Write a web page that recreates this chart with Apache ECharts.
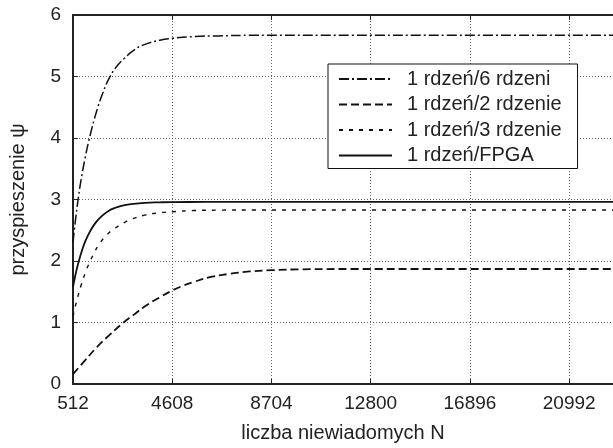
<!DOCTYPE html>
<html>
<head>
<meta charset="utf-8">
<script src="https://cdn.jsdelivr.net/npm/echarts@6/dist/echarts.min.js"></script>
<style>
html,body{margin:0;padding:0;background:#fff;}
#c{width:613px;height:448px;}
</style>
</head>
<body>
<div id="c"></div>
<script>
// Tick labels (N)
const xTicks = [512, 4608, 8704, 12800, 16896, 20992];
const yTicks = [0, 1, 2, 3, 4, 5, 6];

// 1 rdzeń/6 rdzeni
const n6 = [512, 600, 730, 850, 1000, 1210, 1484, 1750, 2030, 2330, 2646, 3000, 3397, 4096, 4608, 5500, 6500, 8000, 12000, 16000, 22800];
const v6 = [2.3, 2.62, 3.02, 3.33, 3.65, 4.03, 4.43, 4.74, 4.99, 5.17, 5.3, 5.42, 5.51, 5.59, 5.62, 5.65, 5.66, 5.67, 5.67, 5.67, 5.67];

// 1 rdzeń/2 rdzenie
const n2 = [512, 1000, 1500, 2000, 2600, 3000, 3467, 4096, 4608, 5000, 5500, 6200, 6943, 7800, 8720, 10000, 12000, 16000, 22800];
const v2 = [0.16, 0.38, 0.6, 0.79, 1.0, 1.12, 1.26, 1.41, 1.52, 1.59, 1.66, 1.74, 1.79, 1.83, 1.85, 1.865, 1.87, 1.87, 1.87];

// 1 rdzeń/3 rdzenie
const n3 = [512, 600, 704, 850, 1033, 1210, 1400, 1550, 1895, 2236, 2600, 2920, 3467, 4096, 4608, 5500, 6500, 8000, 12000, 16000, 22800];
const v3 = [1.1, 1.25, 1.41, 1.61, 1.82, 1.99, 2.14, 2.25, 2.42, 2.53, 2.62, 2.68, 2.745, 2.785, 2.8, 2.82, 2.827, 2.83, 2.83, 2.83, 2.83];

// 1 rdzeń/FPGA
const nF = [512, 600, 650, 760, 900, 1030, 1200, 1440, 1700, 1961, 2300, 2646, 3000, 3467, 4096, 4608, 6000, 9000, 14000, 22800];
const vF = [1.58, 1.75, 1.84, 2.01, 2.19, 2.33, 2.47, 2.62, 2.73, 2.81, 2.87, 2.91, 2.93, 2.945, 2.954, 2.958, 2.96, 2.96, 2.96, 2.96];

const names = ['1 rdzeń/6 rdzeni', '1 rdzeń/2 rdzenie', '1 rdzeń/3 rdzenie', '1 rdzeń/FPGA'];

const X0 = xTicks[0];
const XSTEP = xTicks[1] - xTicks[0];
const XMAX = 22800;
const pts = (n, v) => n.map((x, i) => [x - X0, v[i]]);

const FONT = '"Liberation Sans", Arial, Helvetica, sans-serif';
const chart = echarts.init(document.getElementById('c'), null, {renderer: 'canvas'});

const lineSeries = (name, data, type, width) => ({
  name: name,
  type: 'line',
  data: data,
  symbol: 'none',
  smooth: 0.5,
  clip: true,
  lineStyle: {color: '#111', width: width, type: type},
  itemStyle: {color: '#111'},
  emphasis: {disabled: true},
  animation: false
});

const option = {
  animation: false,
  backgroundColor: '#fff',
  grid: {left: 70, top: 15, width: 543, height: 369, containLabel: false},
  legend: {
    orient: 'vertical',
    left: 328,
    top: 64,
    itemWidth: 53,
    itemHeight: 20,
    itemGap: 5.5,
    padding: [5, 16, 3, 10],
    backgroundColor: '#fff',
    borderColor: '#111',
    borderWidth: 1,
    borderRadius: 0,
    data: names,
    itemStyle: {opacity: 0},
    textStyle: {fontFamily: FONT, fontSize: 20, color: '#222', padding: [0, 0, 0, 10]},
    selectedMode: false
  },
  xAxis: [{
    type: 'value',
    min: 0,
    max: XMAX - X0,
    interval: XSTEP,
    name: 'liczba niewiadomych N',
    nameLocation: 'middle',
    nameGap: 39,
    nameTextStyle: {fontFamily: FONT, fontSize: 20, color: '#222'},
    axisLine: {show: true, onZero: false, lineStyle: {color: '#222', width: 2}},
    axisTick: {show: true, inside: true, length: 5, lineStyle: {color: '#222', width: 1}},
    axisLabel: {fontFamily: FONT, fontSize: 19, color: '#222', margin: 10,
      formatter: v => String(v + X0)},
    splitLine: {show: true, lineStyle: {color: '#666', width: 1, type: [1, 2]}}
  }, {
    type: 'value',
    position: 'top',
    min: 0,
    max: XMAX - X0,
    interval: XSTEP,
    axisLine: {show: true, onZero: false, lineStyle: {color: '#222', width: 2}},
    axisTick: {show: true, inside: true, length: 5, lineStyle: {color: '#222', width: 1}},
    axisLabel: {show: false},
    splitLine: {show: false}
  }],
  yAxis: {
    type: 'value',
    min: yTicks[0],
    max: yTicks[yTicks.length - 1],
    interval: yTicks[1] - yTicks[0],
    name: 'przyspieszenie ψ',
    nameLocation: 'middle',
    nameGap: 45,
    nameTextStyle: {fontFamily: FONT, fontSize: 20, color: '#222'},
    axisLine: {show: true, lineStyle: {color: '#222', width: 2}},
    axisTick: {show: true, inside: true, length: 5, lineStyle: {color: '#222', width: 1}},
    axisLabel: {fontFamily: FONT, fontSize: 19, color: '#222', margin: 12},
    splitLine: {show: true, lineStyle: {color: '#666', width: 1, type: [1, 2]}}
  },
  series: [
    lineSeries(names[0], pts(n6, v6), [10, 3, 2, 3], 1.5),
    lineSeries(names[1], pts(n2, v2), [8, 4], 1.8),
    lineSeries(names[2], pts(n3, v3), [4, 6], 1.4),
    lineSeries(names[3], pts(nF, vF), 'solid', 1.8)
  ]
};
chart.setOption(option);
</script>
</body>
</html>
